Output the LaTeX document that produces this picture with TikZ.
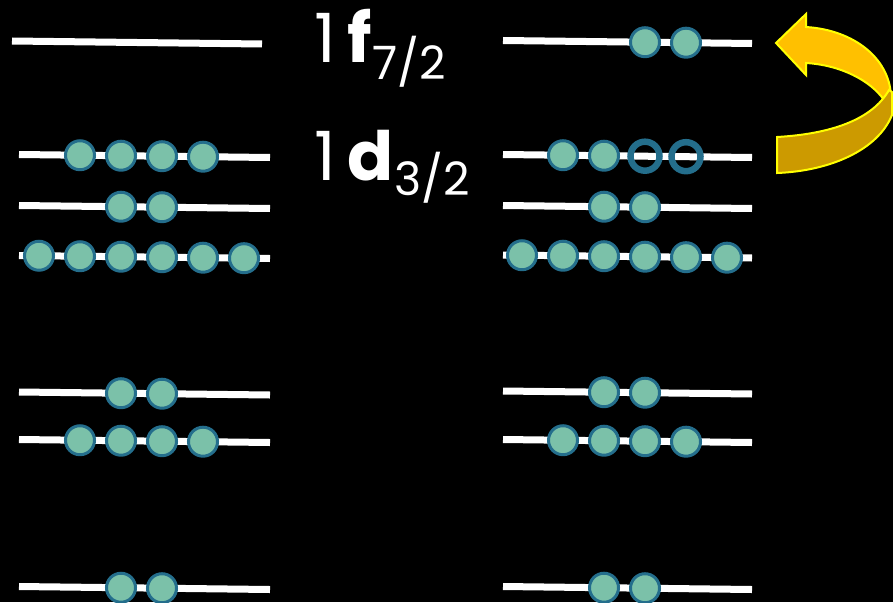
\documentclass[tikz,border=0pt]{standalone}
\usepackage{fontspec}
\setmainfont{Poppins}
\definecolor{beadfill}{HTML}{7BC1A9}
\definecolor{beadedge}{HTML}{246E8C}
\definecolor{arrowtop}{HTML}{FFC000}
\definecolor{arrowlow}{HTML}{CC9A00}
\definecolor{arrowedge}{HTML}{FFFF00}
\tikzset{
  level/.style={draw=white, line width=7pt},
  bead/.style={circle, fill=beadfill, draw=beadedge, line width=3pt, minimum size=29pt, inner sep=0pt},
  hole/.style={circle, draw=beadedge, line width=6.5pt, minimum size=29pt, inner sep=0pt},
  label/.style={text=white, inner sep=0pt, anchor=base west},
  arrowpart/.style={draw=arrowedge, line width=2pt, line join=miter},
}
\begin{document}
\begin{tikzpicture}[x=1pt,y=-1pt]
\fill[black] (0,0) rectangle (893,602);
\useasboundingbox (0,0) rectangle (893,602);
% levels
\foreach \n/\a/\b/\y in {LA/12/262/42.5, LB/19/270/156, LC/19/270/207, LD/19/270/257, LE/19/270/393.5, LF/19/270/441, LG/19/270/588,
  RA/503/752/42, RB/503/752/156, RC/503/752/207, RD/503/752/256.5, RE/503/752/392.5, RF/503/752/441, RG/503/752/588}{
  \coordinate (\n-w) at (\a,\y-1.5);
  \coordinate (\n-e) at (\b,\y+1.5);
  \draw[level] (\n-w) -- (\n-e);
}
% left beads
\foreach \row/\y/\xs in {LB/156/{80,121,162,203}, LC/207/{121,162}, LD/257/{39,80,121,162,203,244},
  LE/393.5/{121,162}, LF/441/{80,121,162,203}, LG/588/{121,162}}{
  \foreach \x [count=\k] in \xs {
    \node[bead] (\row-\k) at (\x,{\y+(\x-144)*0.012}) {};
  }
}
% right beads
\foreach \row/\y/\xs in {RA/42/{645,686}, RB/156/{563,604}, RC/207/{604,645}, RD/256.5/{522,563,604,645,686,727},
  RE/392.5/{604,645}, RF/441/{563,604,645,686}, RG/588/{604,645}}{
  \foreach \x [count=\k] in \xs {
    \node[bead] (\row-\k) at (\x,{\y+(\x-627.5)*0.012}) {};
  }
}
\node[hole] (RB-3) at (645,156.2) {};
\node[hole] (RB-4) at (686,156.7) {};
% labels
\node[label] (f72) at (314,63) {\fontsize{68}{68}\selectfont 1\hspace{12pt}\textbf{f}\raisebox{-17pt}{\fontsize{46}{46}\selectfont 7/2}};
\node[label] (d32) at (314,180) {\fontsize{68}{68}\selectfont 1\hspace{12pt}\textbf{d}\raisebox{-15pt}{\fontsize{46}{46}\selectfont 3/2}};
% curved arrow
\filldraw[arrowpart, fill=arrowtop] (776,43) -- (806,14) -- (806,27)
  .. controls (855,30) and (892,60) .. (891,100) -- (884,100)
  .. controls (870,80) and (840,65) .. (806,63) -- (806,75) -- cycle;
\filldraw[arrowpart, fill=arrowlow] (777,137)
  .. controls (830,134) and (872,120) .. (889,90) -- (892,92) -- (892,115)
  .. controls (878,150) and (830,171) .. (777,173) -- cycle;
\end{tikzpicture}
\end{document}
